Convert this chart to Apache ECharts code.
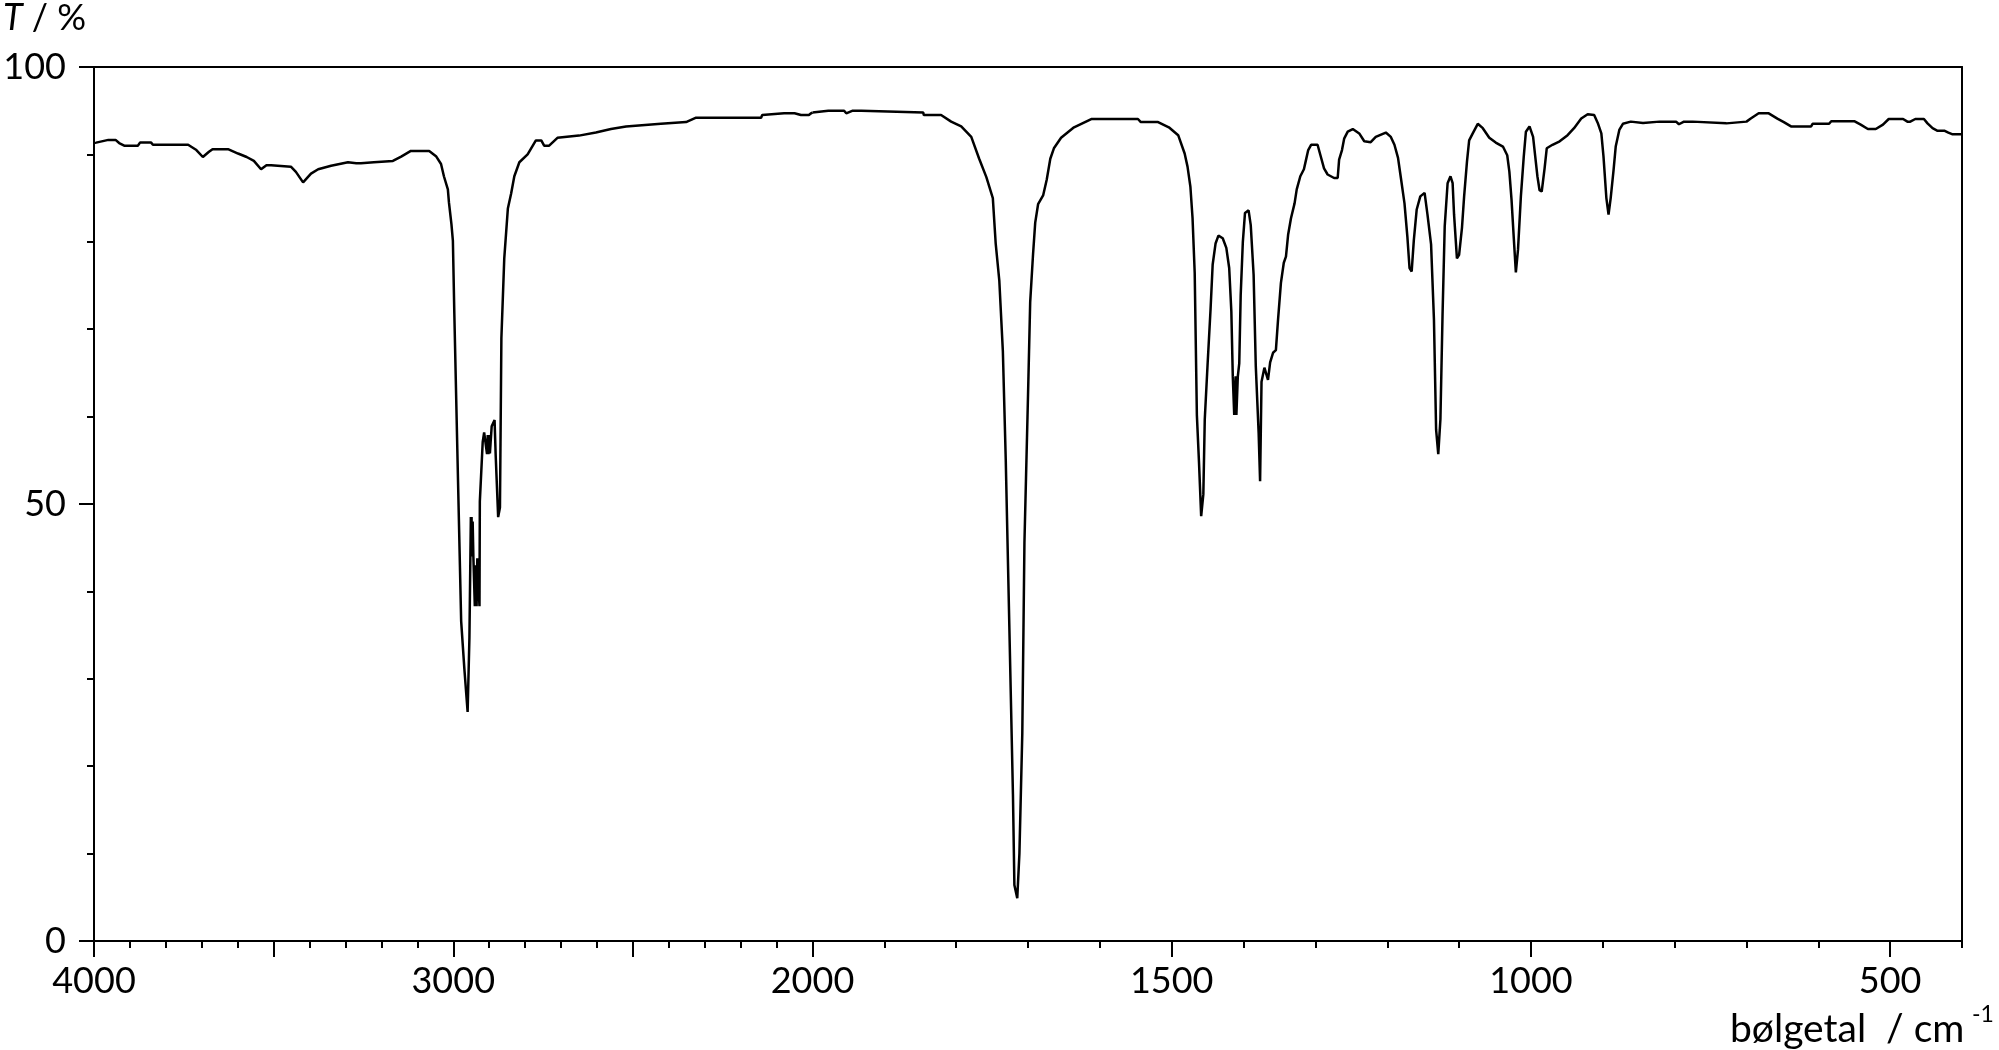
<!DOCTYPE html>
<html>
<head>
<meta charset="utf-8">
<script src="https://cdn.jsdelivr.net/npm/echarts@6/dist/echarts.min.js"></script>
<style>
html,body{margin:0;padding:0;background:#fff;}
#chart{width:1999px;height:1050px;}
</style>
</head>
<body>
<div id="chart"></div>
<script>
// ---- data (wavenumber in cm^-1, transmittance in %) ----
const wavenumber = [
4000,3994,3960,3940,3930,3916,3878,3872,3841,3836,3738,3715,3697,3680,3670,3627,3599,3575,3555,3535,3520,3507,3452,3438,3418,3396,3376,3340,3293,3270,3257,3221,3168,3145,3118,3067,3048,3034,3026,3015,3012,3005,3001,2997,2988,2978,2969,2960,2955,2951,2950,2949,2948,2946,2944,2942,2940,2939,2938,2936,2935,2933,2928,2927,2926,2921,2918,2914,2910,2906,2904,2902,2900,2898,2895,2893,2885,2882,2877,2875,2872,2870,2866,2858,2848,2839,2830,2816,2793,2770,2755,2747,2733,2710,2650,2603,2561,2519,2422,2352,2324,2143,2140,2079,2050,2032,2010,2004,2000,
1978,1956,1953,1944,1932,1930,1846,1845,1821,1807,1793,1779,1768,1758,1749,1745,1740,1735,1731,1726,1721,1719,1715,1712,1708,1705,1700,1697,1693,1690,1686,1679,1674,1669,1664,1654,1636,1612,1547,1543,1519,1504,1491,1482,1478,1474,1471,1468,1465,1462,1459,1456,1454,1450,1446,1443,1439,1435,1429,1424,1420,1417,1415,1413,1411,1410,1408,1406,1404,1401,1398,1393,1390,1386,1383,1379,1377,1375,1371,1366,1363,1359,1355,1352,1348,1344,1341,1338,1334,1329,1326,1321,1316,1313,1310,1306,1297,1293,1288,1283,1274,1269,1267,1263,1260,1255,1248,1239,1232,1223,1216,1202,1195,1190,1185,1181,1176,1172,1169,1166,1163,1159,1154,1148,1144,1139,1135,1132,1129,1126,1123,1120,1116,1112,1109,1107,1103,1100,1096,1093,1089,1086,1081,1074,1067,1058,1049,1039,1033,1030,1027,1024,1021,1018,1014,1010,1007,1002,997,994,991,988,985,981,978,970,960,949,940,930,921,912,907,902,899,895,892,889,885,882,877,872,861,844,821,798,794,787,775,773,728,726,700,694,683,669,657,648,638,610,608,585,582,550,541,531,520,510,502,482,476,472,465,453,448,441,434,424,419,413,400
];
const transmittance = [
91.3,91.35,91.66,91.66,91.3,91.0,91.0,91.35,91.35,91.1,91.1,90.5,89.7,90.3,90.6,90.6,90.1,89.7,89.26,88.3,88.76,88.76,88.6,88.0,86.8,87.8,88.3,88.7,89.1,89.0,89.0,89.1,89.25,89.75,90.4,90.4,89.8,88.9,87.5,86.0,84.5,82.0,80.1,71.8,55.0,36.6,31.1,26.2,34.7,48.5,44.0,48.5,44.0,48.0,44.0,43.8,38.3,43.0,38.3,43.0,38.3,43.8,43.8,38.3,50.3,50.3,57.1,58.2,58.2,55.7,57.9,55.7,57.9,55.8,55.8,58.9,59.6,55.7,55.7,48.5,48.5,49.6,69.0,78.1,83.8,85.5,87.5,89.1,90.0,91.6,91.6,91.0,91.0,91.9,92.15,92.5,92.9,93.2,93.5,93.7,94.2,94.2,94.5,94.7,94.7,94.5,94.5,94.7,94.8,
95.0,95.0,94.7,95.0,95.0,94.8,94.8,94.5,94.5,93.75,93.2,92.0,89.5,87.4,85.0,79.8,75.6,67.4,55.0,35.9,16.8,6.4,4.9,10.0,23.7,45.6,62.5,73.1,78.6,82.2,84.3,85.3,87.1,89.5,90.7,91.9,93.1,94.05,94.05,93.7,93.7,93.1,92.2,90.1,88.6,86.3,82.7,76.4,60.2,54.7,48.6,51.1,59.7,66.1,72.2,77.4,79.8,80.7,80.4,79.3,77.0,72.0,64.6,60.2,64.6,60.2,64.6,66.1,73.9,80.0,83.3,83.6,81.9,76.2,65.8,58.1,52.6,64.0,65.6,64.2,66.2,67.3,67.6,71.1,75.3,77.6,78.3,80.8,82.7,84.4,86.0,87.5,88.3,89.4,90.5,91.1,91.1,89.9,88.4,87.7,87.3,87.3,89.4,90.5,91.8,92.6,92.9,92.4,91.5,91.4,92.0,92.5,92.0,91.1,89.6,87.3,84.4,80.6,77.0,76.6,80.2,83.7,85.2,85.6,83.1,79.7,71.1,58.5,55.7,59.7,71.8,81.8,86.7,87.5,86.7,83.1,78.1,78.5,81.6,85.2,89.2,91.6,92.4,93.5,93.0,91.9,91.35,90.9,89.9,88.0,84.8,80.6,76.5,79.1,85.2,89.75,92.6,93.2,92.0,89.75,87.5,85.9,85.75,88.4,90.7,91.1,91.5,92.2,93.0,94.1,94.6,94.5,93.6,92.4,89.75,85.0,83.1,85.0,88.2,90.9,92.8,93.5,93.75,93.6,93.75,93.75,93.45,93.75,93.75,93.55,93.55,93.75,93.75,94.1,94.7,94.7,94.1,93.7,93.2,93.2,93.5,93.5,93.8,93.8,93.4,92.9,92.9,93.4,94.05,94.05,93.75,93.75,94.05,94.05,93.55,93.0,92.7,92.7,92.5,92.3,92.3
];

// ---- axes: ticks and labels ----
const upperMajorTicks = [4000, 3500, 3000, 2500, 2000];
const upperLabels = [4000, 3000, 2000];
const upperMinorTicks = [3900,3800,3700,3600,3400,3300,3200,3100,2900,2800,2700,2600,2400,2300,2200,2100];
const lowerMajorTicks = [1500, 1000, 500];
const lowerLabels = [1500, 1000, 500];
const lowerMinorTicks = [1900,1800,1700,1600,1400,1300,1200,1100,900,800,700,600,400];
const yMajorTicks = [0, 50, 100];
const yLabels = [0, 50, 100];
const yMinorTicks = [10, 20, 30, 40, 60, 70, 80, 90];

const yTitle = 'T';
const yUnit = ' / %';
const xTitle = 'bølgetal  / cm';
const xUnitExp = '-1';

// ---- build series data ----
const upperData = [], lowerData = [];
for (let i = 0; i < wavenumber.length; i++) {
  if (wavenumber[i] >= 2000) upperData.push([wavenumber[i], transmittance[i]]);
  if (wavenumber[i] <= 2000) lowerData.push([wavenumber[i], transmittance[i]]);
}

const FONT = 'Lato';
const INK = '#000';
const LW = 2;

function xBottom(grid, min, max, majors, labels) {
  return {
    type: 'value', gridIndex: grid, min: min, max: max, inverse: true, position: 'bottom',
    axisLine: { show: true, onZero: false, lineStyle: { color: INK, width: LW } },
    axisTick: { show: true, inside: false, length: 16, customValues: majors, lineStyle: { color: INK, width: LW } },
    axisLabel: { show: true, customValues: labels, margin: 22, fontFamily: FONT, fontSize: 36, color: INK,
                 formatter: function (v) { return String(v); } },
    splitLine: { show: false }
  };
}
function xMinor(grid, min, max, ticks) {
  return {
    type: 'value', gridIndex: grid, min: min, max: max, inverse: true, position: 'bottom',
    axisLine: { show: false, onZero: false },
    axisTick: { show: true, inside: false, length: 7, customValues: ticks, lineStyle: { color: INK, width: LW } },
    axisLabel: { show: false }, splitLine: { show: false }
  };
}
function xTop(grid, min, max) {
  return {
    type: 'value', gridIndex: grid, min: min, max: max, inverse: true, position: 'top',
    axisLine: { show: true, onZero: false, lineStyle: { color: INK, width: LW } },
    axisTick: { show: false }, axisLabel: { show: false }, splitLine: { show: false }
  };
}

const option = {
  animation: false,
  backgroundColor: '#fff',
  title: [
    { text: '{i|' + yTitle + '}{n|' + yUnit + '}', left: 3, top: 0, padding: 0,
      textStyle: { fontWeight: 'normal', rich: {
        i: { fontFamily: FONT, fontSize: 36, fontStyle: 'italic', fontWeight: 'normal', color: INK, lineHeight: 36 },
        n: { fontFamily: FONT, fontSize: 36, fontWeight: 'normal', color: INK, lineHeight: 36 } } } },
    { text: xTitle, left: 1730, top: 1010, padding: 0,
      textStyle: { fontFamily: FONT, fontSize: 39, fontWeight: 'normal', color: INK, lineHeight: 39 } },
    { text: xUnitExp, left: 1972, top: 1003, padding: 0,
      textStyle: { fontFamily: FONT, fontSize: 23, fontWeight: 'normal', color: INK, lineHeight: 23 } }
  ],
  grid: [
    { left: 94, top: 67, width: 718.5, height: 874, containLabel: false },
    { left: 812.5, top: 67, width: 1149.5, height: 874, containLabel: false }
  ],
  xAxis: [
    xBottom(0, 2000, 4000, upperMajorTicks, upperLabels),
    xMinor(0, 2000, 4000, upperMinorTicks),
    xTop(0, 2000, 4000),
    xBottom(1, 400, 2000, lowerMajorTicks, lowerLabels),
    xMinor(1, 400, 2000, lowerMinorTicks),
    xTop(1, 400, 2000)
  ],
  yAxis: [
    { type: 'value', gridIndex: 0, min: 0, max: 100, position: 'left',
      axisLine: { show: true, onZero: false, lineStyle: { color: INK, width: LW } },
      axisTick: { show: true, inside: false, length: 15, customValues: yMajorTicks, lineStyle: { color: INK, width: LW } },
      axisLabel: { show: true, customValues: yLabels, margin: 28, fontFamily: FONT, fontSize: 36, color: INK,
                   formatter: function (v) { return String(v); } },
      splitLine: { show: false } },
    { type: 'value', gridIndex: 0, min: 0, max: 100, position: 'left',
      axisLine: { show: false, onZero: false },
      axisTick: { show: true, inside: false, length: 7, customValues: yMinorTicks, lineStyle: { color: INK, width: LW } },
      axisLabel: { show: false }, splitLine: { show: false } },
    { type: 'value', gridIndex: 1, min: 0, max: 100, position: 'right',
      axisLine: { show: true, onZero: false, lineStyle: { color: INK, width: LW } },
      axisTick: { show: false }, axisLabel: { show: false }, splitLine: { show: false } }
  ],
  series: [
    { type: 'line', xAxisIndex: 0, yAxisIndex: 0, data: upperData, showSymbol: false, symbol: 'none',
      lineStyle: { color: INK, width: 2.5 }, silent: true, clip: false },
    { type: 'line', xAxisIndex: 3, yAxisIndex: 2, data: lowerData, showSymbol: false, symbol: 'none',
      lineStyle: { color: INK, width: 2.5 }, silent: true, clip: false }
  ]
};

const chart = echarts.init(document.getElementById('chart'), null, { renderer: 'canvas' });
chart.setOption(option);
</script>
</body>
</html>
